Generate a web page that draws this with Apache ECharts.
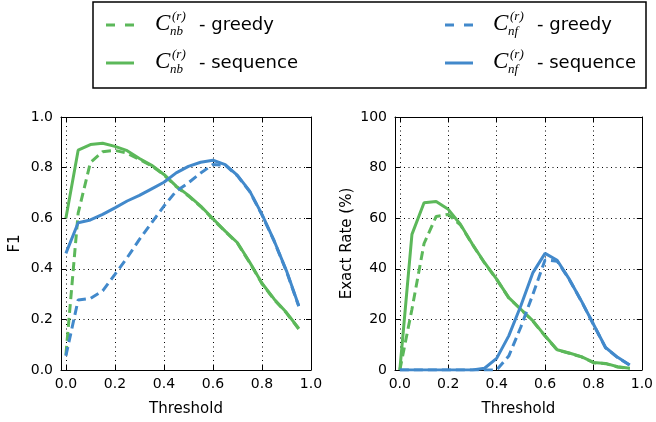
<!DOCTYPE html>
<html>
<head>
<meta charset="utf-8">
<script src="https://cdn.jsdelivr.net/npm/echarts@6/dist/echarts.min.js"></script>
<style>html,body{margin:0;padding:0;background:#fff}#c{width:656px;height:422px}</style>
</head>
<body>
<div id="c"></div>
<script>
// ---- data ----
const thresholds = [0, 0.05, 0.1, 0.15, 0.2, 0.25, 0.3, 0.35, 0.4, 0.45, 0.5, 0.55, 0.6, 0.65, 0.7, 0.75, 0.8, 0.85, 0.9, 0.95];
const xTicks = [0, 0.2, 0.4, 0.6, 0.8, 1.0];

// F1 (left panel)
const f1NbGreedy = [0.06, 0.62, 0.82, 0.863, 0.868, 0.857, 0.832, 0.807, 0.771, 0.725, 0.688, 0.646, 0.596, 0.547, 0.501, 0.424, 0.341, 0.278, 0.225, 0.162];
const f1NbSeq    = [0.60, 0.869, 0.891, 0.896, 0.884, 0.867, 0.836, 0.809, 0.773, 0.727, 0.69, 0.648, 0.598, 0.549, 0.503, 0.426, 0.343, 0.28, 0.227, 0.164];
const f1NfGreedy = [0.056, 0.277, 0.283, 0.313, 0.378, 0.444, 0.516, 0.582, 0.648, 0.707, 0.74, 0.779, 0.812, 0.81, 0.767, 0.705, 0.613, 0.508, 0.39, 0.252];
const f1NfSeq    = [0.461, 0.582, 0.593, 0.615, 0.641, 0.668, 0.69, 0.716, 0.742, 0.779, 0.805, 0.821, 0.829, 0.812, 0.769, 0.707, 0.615, 0.51, 0.392, 0.254];

// Exact rate % (right panel)
const erNbGreedy = [0, 24, 50, 60.7, 61.5, 57.4, 49.6, 42.3, 35.8, 28.5, 23.9, 19.3, 13.4, 7.9, 6.6, 5.2, 2.9, 2.5, 1.2, 0.6];
const erNbSeq    = [0, 53.6, 66.1, 66.6, 63.5, 57.6, 49.7, 42.4, 35.9, 28.6, 24.0, 19.4, 13.5, 8.0, 6.7, 5.3, 3.0, 2.6, 1.3, 0.7];
const erNfGreedy = [0, 0, 0, 0, 0, 0, 0, 0, 0, 5.5, 17, 30, 43.5, 43, 35.8, 27.2, 18.0, 8.8, 4.9, 1.9];
const erNfSeq    = [0, 0, 0, 0, 0, 0, 0, 0.7, 4.6, 13.5, 25.4, 38.5, 46.1, 43.4, 35.9, 27.3, 18.1, 8.9, 5.0, 2.0];

const legendLabels = { 'nb-greedy': '- greedy', 'nb-seq': '- sequence', 'nf-greedy': '- greedy', 'nf-seq': '- sequence' };

// ---- styles ----
const GREEN = '#5cb85a';
const BLUE = '#4289cb';
const FONT = 'DejaVu Sans';
const DASH = [9, 5];
const ICON_DASHED = 'path://M0,0h9v3h-9z M19,0h9v3h-9z';
const ICON_SOLID = 'path://M0,0h28v3h-28z';

const pairs = (ys) => thresholds.map((t, i) => [t, ys[i]]);

function xAxisPair(gi) {
  return [
    {
      type: 'value', gridIndex: gi, min: -0.02, max: 1.0, position: 'bottom',
      name: 'Threshold', nameLocation: 'middle', nameGap: 32,
      nameTextStyle: { fontFamily: FONT, fontSize: 15, color: '#000' },
      axisLine: { show: true, onZero: false, lineStyle: { color: '#000', width: 1 } },
      axisTick: { show: true, inside: true, length: 5, customValues: xTicks, lineStyle: { color: '#000' } },
      axisLabel: { customValues: xTicks, fontFamily: FONT, fontSize: 14, color: '#000', margin: 7,
                   formatter: v => v.toFixed(1) },
      splitLine: { show: true, lineStyle: { color: '#000', width: 1, type: [1, 3.5] } }
    },
    {
      type: 'value', gridIndex: gi, min: -0.02, max: 1.0, position: 'top',
      axisLine: { show: true, onZero: false, lineStyle: { color: '#000', width: 1 } },
      axisTick: { show: true, inside: true, length: 5, customValues: xTicks, lineStyle: { color: '#000' } },
      axisLabel: { show: false },
      splitLine: { show: false }
    }
  ];
}

function yAxisPair(gi, max, interval, name, gap, fmt) {
  return [
    {
      type: 'value', gridIndex: gi, min: 0, max: max, interval: interval, position: 'left',
      name: name, nameLocation: 'middle', nameGap: gap,
      nameTextStyle: { fontFamily: FONT, fontSize: 15, color: '#000' },
      axisLine: { show: true, onZero: false, lineStyle: { color: '#000', width: 1 } },
      axisTick: { show: true, inside: true, length: 5, lineStyle: { color: '#000' } },
      axisLabel: { fontFamily: FONT, fontSize: 14, color: '#000', margin: 8, formatter: fmt },
      splitLine: { show: true, lineStyle: { color: '#000', width: 1, type: [1, 3.5] } }
    },
    {
      type: 'value', gridIndex: gi, min: 0, max: max, interval: interval, position: 'right',
      axisLine: { show: true, onZero: false, lineStyle: { color: '#000', width: 1 } },
      axisTick: { show: true, inside: true, length: 5, lineStyle: { color: '#000' } },
      axisLabel: { show: false },
      splitLine: { show: false }
    }
  ];
}

function line(name, data, color, dashed, xi, yi) {
  return {
    type: 'line', name: name, xAxisIndex: xi, yAxisIndex: yi, data: data,
    symbol: 'none', showSymbol: false, animation: false, clip: true,
    lineStyle: { color: color, width: 3, type: dashed ? DASH : 'solid' },
    itemStyle: { color: color }
  };
}

function legendItem(name, left, top, pad, dashed) {
  return {
    data: [name], left: left, top: top, padding: 0, itemWidth: 28, itemHeight: 3,
    icon: dashed ? ICON_DASHED : ICON_SOLID,
    selectedMode: false,
    formatter: n => '{p| }{t|' + legendLabels[n] + '}',
    textStyle: {
      rich: {
        p: { width: pad, fontSize: 18 },
        t: { fontFamily: FONT, fontSize: 18, color: '#000' }
      }
    }
  };
}

function mathC(x, y, sub) {
  const serif = 'Liberation Serif';
  return [
    { type: 'text', left: x, top: y - 12, style: { text: 'C', font: 'italic 23px "' + serif + '"', fill: '#000' } },
    { type: 'text', left: x + 17, top: y - 14, style: { text: '(r)', font: 'italic 13px "' + serif + '"', fill: '#000' } },
    { type: 'text', left: x + 15, top: y + 1, style: { text: sub, font: 'italic 13px "' + serif + '"', fill: '#000' } }
  ];
}

const chart = echarts.init(document.getElementById('c'), null, { renderer: 'canvas' });
chart.setOption({
  animation: false,
  backgroundColor: '#fff',
  grid: [
    { left: 61, top: 117, width: 250, height: 254, containLabel: false },
    { left: 395, top: 117, width: 250, height: 254, containLabel: false }
  ],
  xAxis: [...xAxisPair(0), ...xAxisPair(1)],
  yAxis: [
    ...yAxisPair(0, 1.0, 0.2, 'F1', 38, v => v.toFixed(1)),
    ...yAxisPair(1, 100, 20, 'Exact Rate (%)', 40, v => String(v))
  ],
  legend: [
    legendItem('nb-greedy', 106, 16, 60, true),
    legendItem('nb-seq', 106, 54, 60, false),
    legendItem('nf-greedy', 445, 16, 59, true),
    legendItem('nf-seq', 445, 54, 59, false)
  ],
  graphic: [
    { type: 'rect', shape: { x: 93, y: 2, width: 553, height: 86 }, style: { fill: 'none', stroke: '#000', lineWidth: 1.5 } },
    ...mathC(155, 24, 'nb'),
    ...mathC(155, 62, 'nb'),
    ...mathC(493, 24, 'nf'),
    ...mathC(493, 62, 'nf')
  ],
  series: [
    line('nb-greedy', pairs(f1NbGreedy), GREEN, true, 0, 0),
    line('nb-seq', pairs(f1NbSeq), GREEN, false, 0, 0),
    line('nf-greedy', pairs(f1NfGreedy), BLUE, true, 0, 0),
    line('nf-seq', pairs(f1NfSeq), BLUE, false, 0, 0),
    line('nb-greedy', pairs(erNbGreedy), GREEN, true, 2, 2),
    line('nb-seq', pairs(erNbSeq), GREEN, false, 2, 2),
    line('nf-greedy', pairs(erNfGreedy), BLUE, true, 2, 2),
    line('nf-seq', pairs(erNfSeq), BLUE, false, 2, 2)
  ]
});
</script>
</body>
</html>
